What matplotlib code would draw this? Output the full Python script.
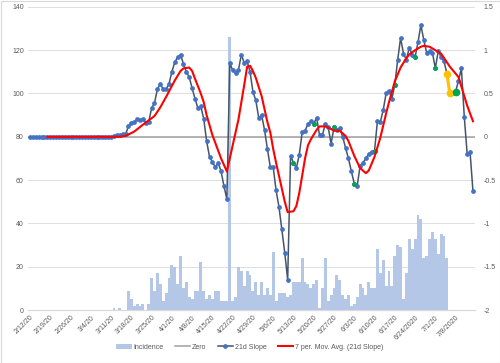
#!/usr/bin/env python3
import matplotlib
matplotlib.use('Agg')
import matplotlib.pyplot as plt
from matplotlib.patches import Rectangle

TICK_LABELS = [
    '2/12/20', '2/19/20', '2/26/20', '3/4/20', '3/11/20', '3/18/20',
    '3/25/20', '4/1/20', '4/8/20', '4/15/20', '4/22/20', '4/29/20',
    '5/6/20', '5/13/20', '5/20/20', '5/27/20', '6/3/20', '6/10/20',
    '6/17/20', '6/24/2020', '7/1/20', '7/8/2020']
TICK_DAYS = [0, 7, 14, 21, 28, 35, 42, 49, 56, 63, 70, 77, 84, 91, 98,
             105, 112, 119, 126, 133, 140, 147]

# daily incidence, day 0 = 2/12/20
INCIDENCE = [
    0, 0, 0, 0, 0, 0, 0, 0, 0, 0, 0, 0, 0, 0, 0, 0, 0, 0, 0, 0,
    0, 0, 0, 0, 0, 0, 0, 0, 0, 1, 0, 1, 0, 0, 9, 5, 2, 3, 2, 3,
    0, 3, 15, 9, 17, 12, 4, 8, 15, 21, 20, 12, 25, 10, 13, 6, 5, 9, 9, 22,
    9, 5, 7, 5, 9, 9, 4, 4, 4, 126, 4, 6, 20, 18, 11, 18, 16, 9, 13, 7,
    13, 7, 10, 7, 27, 4, 8, 8, 8, 6, 7, 13, 13, 13, 24, 13, 12, 10, 12, 14,
    1, 10, 24, 4, 7, 10, 16, 14, 7, 5, 7, 2, 3, 6, 12, 10, 7, 13, 10, 10,
    28, 17, 23, 11, 18, 11, 25, 30, 29, 5, 17, 33, 28, 33, 44, 42, 24, 25, 33, 36,
    33, 26, 35, 34, 24]

# 21 day slope, day 0 = 2/12/20
SLOPE = [
    0, 0, 0, 0, 0, 0, 0, 0, 0, 0, 0, 0, 0, 0, 0, 0, 0, 0, 0, 0,
    0, 0, 0, 0, 0, 0, 0, 0, 0, 0.01, 0.02, 0.02, 0.03, 0.03, 0.12, 0.165, 0.17, 0.20, 0.19, 0.21,
    0.16, 0.17, 0.33, 0.39, 0.55, 0.61, 0.55, 0.55, 0.61, 0.75, 0.86, 0.92, 0.95, 0.84, 0.75, 0.69, 0.56, 0.44, 0.33, 0.35,
    0.21, -0.05, -0.23, -0.29, -0.35, -0.30, -0.40, -0.57, -0.72, 0.85, 0.77, 0.74, 0.77, 0.95, 0.85, 0.87, 0.75, 0.52, 0.42, 0.22,
    0.25, 0.08, -0.14, -0.35, -0.35, -0.62, -0.81, -1.07, -1.34, -1.65, -0.22, -0.30, -0.36, -0.21, 0.05, 0.07, 0.15, 0.18, 0.15, 0.22,
    0.02, 0.02, 0.15, 0.11, -0.08, 0.11, 0.08, 0.10, 0.0, -0.13, -0.25, -0.40, -0.54, -0.57, -0.34, -0.30, -0.25, -0.20, -0.17, -0.16,
    0.18, 0.17, 0.31, 0.50, 0.53, 0.44, 0.60, 0.89, 1.14, 0.96, 0.89, 1.03, 0.95, 0.92, 1.09, 1.29, 1.12, 0.97, 0.99, 0.97,
    0.79, 0.99, 0.92, 0.87, 0.73, 0.50, 0.51, 0.52, 0.65, 0.79, 0.23, -0.20, -0.18, -0.63]

GREEN_DAYS = [91, 98, 105, 112, 119, 126, 133, 140]
ORANGE_DAYS = [144, 145]
BIG_GREEN_DAY = 147

# 7 period moving average
MA_DAYS = [6, 31, 33, 36, 39, 41, 43, 45, 47, 50, 52, 53, 55, 56, 57, 59, 60,
           61, 63, 64, 66, 68, 70, 71, 72, 73, 74, 75, 76, 77, 78, 80, 82,
           83, 84, 85, 86, 87, 88, 89, 91, 92, 93, 94, 95, 96, 97, 99, 100,
           102, 104, 105, 107, 109, 110, 112, 114, 116, 117, 119, 121, 123,
           124, 126, 128, 130, 131, 133, 135, 136, 138, 140, 142, 143, 145,
           147, 148, 149, 151, 153]
MA_VALS = [0, 0, 0.01, 0.06, 0.14, 0.19, 0.24, 0.34, 0.46, 0.65, 0.76, 0.79,
           0.80, 0.76, 0.67, 0.50, 0.40, 0.25, 0.02, -0.07, -0.25, -0.40,
           -0.10, 0.05, 0.20, 0.40, 0.60, 0.81, 0.82, 0.76, 0.68, 0.47, 0.17,
           0.05, -0.14, -0.30, -0.45, -0.60, -0.75, -0.87, -0.86, -0.80,
           -0.65, -0.45, -0.25, -0.10, -0.03, 0.08, 0.12, 0.12, 0.09, 0.07,
           0.07, 0.01, -0.05, -0.22, -0.36, -0.42, -0.39, -0.23, -0.01, 0.27,
           0.40, 0.64, 0.80, 0.91, 0.95, 1.00, 1.04, 1.05, 1.04, 1.00, 0.96,
           0.91, 0.81, 0.73, 0.69, 0.58, 0.36, 0.18]

TEXT = '#595959'
GRID = '#d9d9d9'


def main():
    plt.rcParams['font.family'] = ['Liberation Sans', 'DejaVu Sans']
    fig = plt.figure(figsize=(5, 3.63), dpi=100)
    fig.patches.append(Rectangle((0.001, 0.001), 0.998, 0.997,
                                 transform=fig.transFigure, fill=False,
                                 edgecolor=GRID, lw=0.8))
    ax = fig.add_axes([0.056, 0.146, 0.894, 0.835])
    ax2 = ax.twinx()

    bar_days = list(range(len(INCIDENCE)))
    bars = ax.bar(bar_days, INCIDENCE, width=1.0, color='#b4c7e7',
                  label='Incidence', zorder=2)
    ax.set_ylim(0, 140)
    ax.set_yticks(range(0, 141, 20))
    ax.grid(axis='y', color=GRID, lw=0.6, zorder=0)
    ax.set_axisbelow(True)

    days = list(range(len(SLOPE)))
    zero = ax2.axhline(0, color='#a0a0a0', lw=1.1, label='Zero', zorder=1)
    slope, = ax2.plot(days, SLOPE, color='#44546a', lw=1.1, marker='o',
                      ms=2.4, mfc='#4472c4', mec='#4472c4',
                      label='21d Slope', zorder=3)
    ax2.plot(GREEN_DAYS, [SLOPE[d] for d in GREEN_DAYS], 'o', ms=2.4,
             color='#00a550', zorder=4)
    ax2.plot(ORANGE_DAYS, [SLOPE[d] for d in ORANGE_DAYS], color='#ffc000',
             lw=2.2, marker='o', ms=4.5, zorder=5)
    ax2.plot([BIG_GREEN_DAY], [SLOPE[BIG_GREEN_DAY]], 'o', ms=4.5,
             color='#00a550', zorder=5)
    ma, = ax2.plot(MA_DAYS, MA_VALS, color='#ff0000', lw=1.5,
                   label='7 per. Mov. Avg. (21d Slope)', zorder=4)
    ax2.set_ylim(-2, 1.5)
    ax2.set_yticks([-2, -1.5, -1, -0.5, 0, 0.5, 1, 1.5])
    ax2.set_yticklabels(['-2', '-1.5', '-1', '-0.5', '0', '0.5', '1', '1.5'])

    ax.set_xlim(-0.69, 153.7)
    ax.set_xticks(TICK_DAYS)
    ax.set_xticklabels(TICK_LABELS, rotation=45, ha='right', va='top',
                       rotation_mode='anchor')
    for a in (ax, ax2):
        for s in ('top', 'left', 'right'):
            a.spines[s].set_visible(False)
        a.spines['bottom'].set_color(GRID)
        a.tick_params(length=0, colors=TEXT, labelsize=5)
    ax.tick_params(axis='y', pad=3)
    ax.tick_params(axis='x', pad=3)
    ax2.tick_params(axis='y', pad=6)

    leg = fig.legend([bars, zero, slope, ma],
                     ['Incidence', 'Zero', '21d Slope',
                      '7 per. Mov. Avg. (21d Slope)'],
                     loc='center', bbox_to_anchor=(0.5, 0.044), ncol=4,
                     frameon=False, fontsize=5, handlelength=2.2,
                     handletextpad=0.3, columnspacing=1.6)
    for t in leg.get_texts():
        t.set_color(TEXT)

    fig.savefig('out.png', dpi=100)


if __name__ == '__main__':
    main()
